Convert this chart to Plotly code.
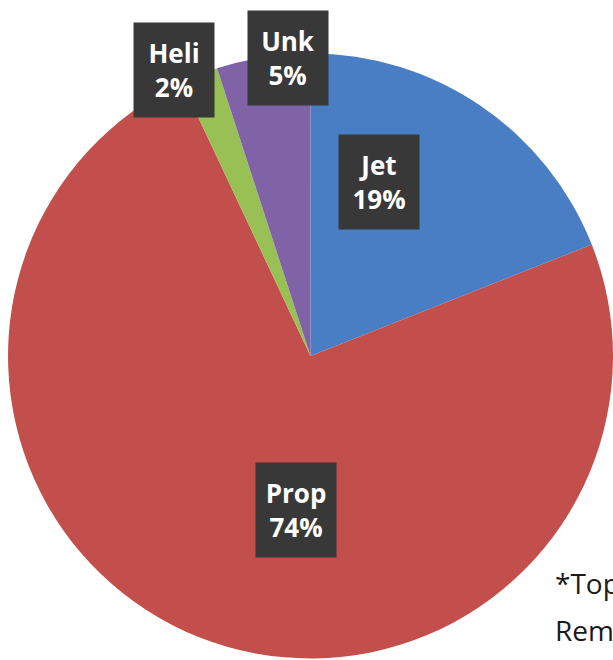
import plotly.graph_objects as go

categories = ["Jet", "Prop", "Heli", "Unk"]
percents = [19, 74, 2, 5]
colors = ["#4a7ec4", "#c24f4c", "#98c055", "#8062a6"]

# label box centres (pixels from top-left of 613x660 page)
label_pos = {"Jet": (379, 182), "Prop": (296, 510), "Heli": (174, 70), "Unk": (288, 58)}

W, H = 613, 660

fig = go.Figure(go.Pie(
    labels=categories,
    values=percents,
    sort=False,
    direction="clockwise",
    rotation=0,
    marker=dict(colors=colors, line=dict(width=0)),
    textinfo="none",
    hoverinfo="skip",
    showlegend=False,
    domain=dict(x=[0.0131, 1.0], y=[0.0023, 0.919]),
))

annotations = []
for c, p in zip(categories, percents):
    px, py = label_pos[c]
    annotations.append(dict(
        x=px / W, y=1 - py / H, xref="paper", yref="paper",
        text=f"<b>{c}</b><br><b>{p}%</b>",
        showarrow=False, xanchor="center", yanchor="middle",
        font=dict(family="Open Sans", size=26, color="white"),
        bgcolor="#383838", borderpad=8, width=64, height=78, align="center",
    ))

annotations.append(dict(
    x=553 / W, y=1 - 583 / H, xref="paper", yref="paper",
    text="*Top", showarrow=False, xanchor="left", yanchor="middle",
    font=dict(family="Open Sans", size=28, color="#1a1a1a"),
))
annotations.append(dict(
    x=553 / W, y=1 - 630 / H, xref="paper", yref="paper",
    text="Rem", showarrow=False, xanchor="left", yanchor="middle",
    font=dict(family="Open Sans", size=28, color="#1a1a1a"),
))

fig.update_layout(
    width=W, height=H,
    margin=dict(l=0, r=0, t=0, b=0),
    paper_bgcolor="white", plot_bgcolor="white",
    annotations=annotations,
)

fig.write_html("out.html", config={"displayModeBar": False},
               post_script="document.body.style.margin='0';")
